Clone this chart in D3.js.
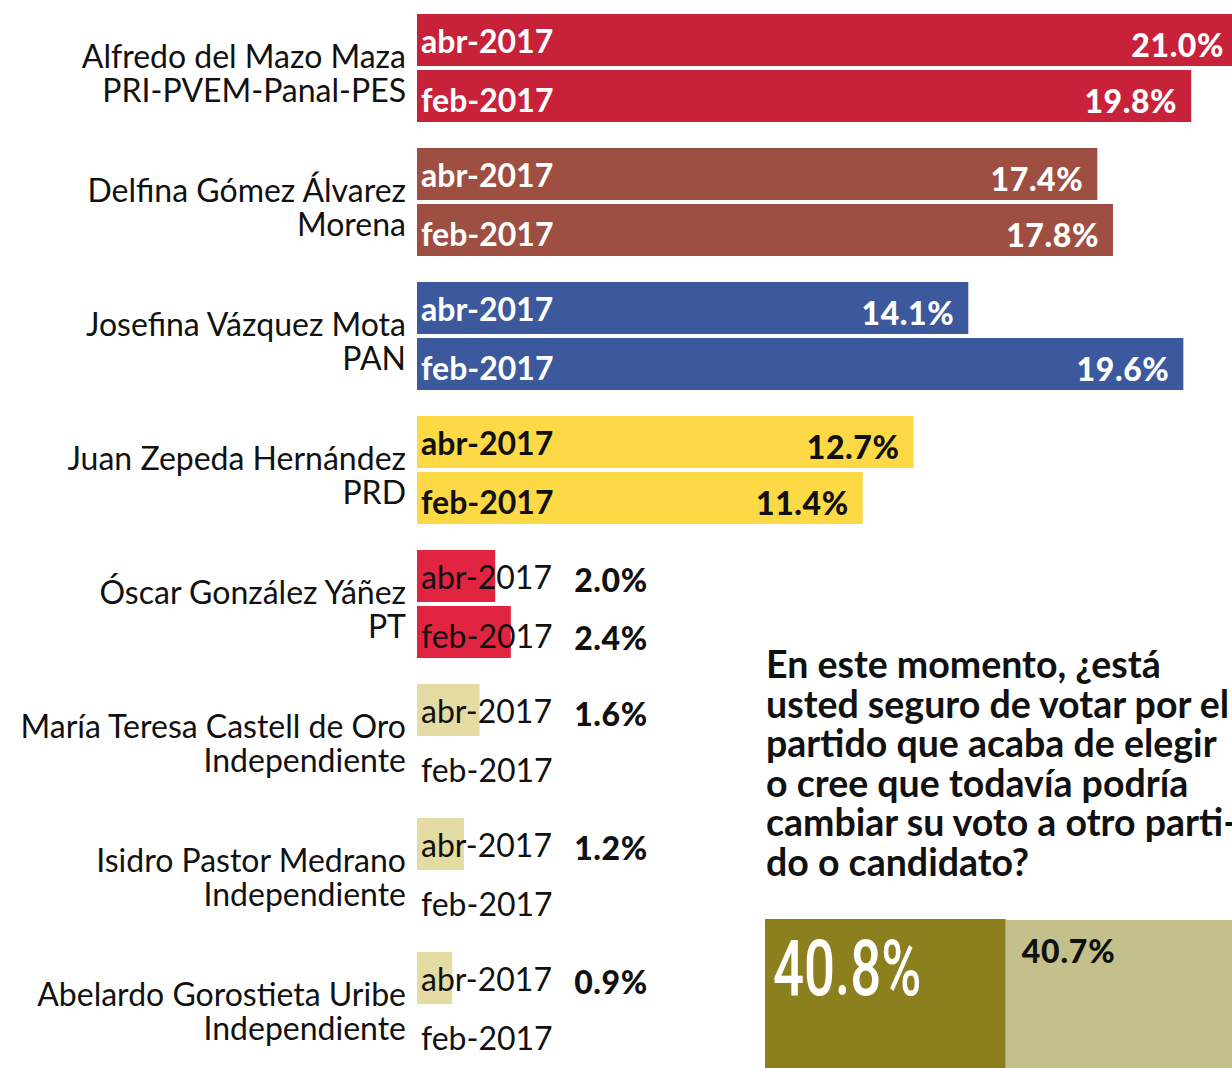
<!DOCTYPE html>
<html>
<head>
<meta charset="utf-8">
<script src="https://cdn.jsdelivr.net/npm/d3@7.9.0/dist/d3.min.js"></script>
<style>
  html, body { margin: 0; padding: 0; background: #fff; overflow: hidden; }
  svg { display: block; font-family: Lato, 'Noto Sans', sans-serif; }
</style>
</head>
<body>
<svg id="chart" width="1232" height="1068"></svg>
<script>
// candidates and party under each name
const candidates = [
  'Alfredo del Mazo Maza', 'Delfina Gómez Álvarez', 'Josefina Vázquez Mota',
  'Juan Zepeda Hernández', 'Óscar González Yáñez', 'María Teresa Castell de Oro',
  'Isidro Pastor Medrano', 'Abelardo Gorostieta Uribe'
];
const parties = [
  'PRI-PVEM-Panal-PES', 'Morena', 'PAN', 'PRD', 'PT',
  'Independiente', 'Independiente', 'Independiente'
];
const periods = ['abr-2017', 'feb-2017'];
const abr2017 = [21.0, 17.4, 14.1, 12.7, 2.0, 1.6, 1.2, 0.9];
const feb2017 = [19.8, 17.8, 19.6, 11.4, 2.4, null, null, null];
const partyColors = ['#c8223a', '#9e4f42', '#3d599d', '#fdd945', '#e02441', '#e4dca3', '#e4dca3', '#e4dca3'];

// side question
const questionLines = [
  'En este momento, ¿está',
  'usted seguro de votar por el',
  'partido que acaba de elegir',
  'o cree que todavía podría',
  'cambiar su voto a otro parti-',
  'do o candidato?'
];
const sureLabels = ['Seguro', 'Podría cambiar'];
const sureValues = [40.8, 40.7];
const sureColors = ['#8c7f1e', '#c4c08c'];

const svg = d3.select('#chart');

const x = d3.scaleLinear().domain([0, 20]).range([417, 1199]);
const y = d3.scaleBand().domain(candidates).range([14, 1060]).paddingInner(26 / 134);
const yInner = d3.scaleBand().domain(periods).range([0, y.bandwidth()]).paddingInner(4 / 56);

const rows = candidates.map((name, i) => ({
  name,
  party: parties[i],
  color: partyColors[i],
  values: [abr2017[i], feb2017[i]]
}));

const group = svg.selectAll('g.cand')
  .data(rows)
  .join('g')
  .attr('class', 'cand')
  .attr('transform', d => `translate(0,${y(d.name)})`);

group.append('text')
  .attr('x', 406).attr('y', 54)
  .attr('text-anchor', 'end')
  .attr('font-size', 32)
  .attr('fill', '#111')
  .text(d => d.name);

group.append('text')
  .attr('x', 406).attr('y', 88)
  .attr('text-anchor', 'end')
  .attr('font-size', 32)
  .attr('fill', '#111')
  .text(d => d.party);

group.each(function (d) {
  const g = d3.select(this);
  const big = d.values[0] > 5;
  const dark = d.color !== '#fdd945';

  periods.forEach((p, j) => {
    const v = d.values[j];
    const top = yInner(p);
    if (v != null) {
      g.append('rect')
        .attr('x', x(0)).attr('y', top)
        .attr('width', x(v) - x(0)).attr('height', yInner.bandwidth())
        .attr('fill', d.color);
    }
    g.append('text')
      .attr('x', 421).attr('y', top + 39 + j * 3)
      .attr('font-size', 32)
      .attr('font-weight', big ? 700 : 400)
      .attr('fill', big && dark ? '#fff' : '#111')
      .text(p);
    if (v != null) {
      g.append('text')
        .attr('x', big ? x(v) - 14 : 611)
        .attr('y', top + (big ? 43 : 42 + j * 2))
        .attr('text-anchor', big ? 'end' : 'middle')
        .attr('font-size', 32)
        .attr('font-weight', 900)
        .attr('letter-spacing', 0.6)
        .attr('fill', big && dark ? '#fff' : '#111')
        .text(v.toFixed(1) + '%');
    }
  });
});

// question block
svg.append('g')
  .selectAll('text')
  .data(questionLines)
  .join('text')
  .attr('x', 766)
  .attr('y', (d, i) => 678 + i * 39.6)
  .attr('font-size', 37.5)
  .attr('font-weight', 700)
  .attr('fill', '#111')
  .text(d => d);

const x2 = d3.scaleLinear().domain([0, 100]).range([765, 765 + 590]);
let acc = 0;
const segs = sureValues.map((v, i) => {
  const s = { label: sureLabels[i], value: v, start: acc, color: sureColors[i] };
  acc += v;
  return s;
});

svg.append('g')
  .selectAll('rect')
  .data(segs)
  .join('rect')
  .attr('x', d => x2(d.start))
  .attr('y', (d, i) => i === 0 ? 919 : 920)
  .attr('width', d => x2(d.start + d.value) - x2(d.start))
  .attr('height', 160)
  .attr('fill', d => d.color);

svg.append('text')
  .attr('transform', `translate(${x2(0) + 8},995) scale(0.7,1)`)
  .attr('font-family', 'Roboto, sans-serif')
  .attr('font-size', 78)
  .attr('font-weight', 500)
  .attr('fill', '#fff')
  .text(segs[0].value.toFixed(1) + '%');

svg.append('text')
  .attr('x', x2(segs[1].start) + 16)
  .attr('y', 963)
  .attr('font-size', 32)
  .attr('font-weight', 900)
  .attr('letter-spacing', 0.8)
  .attr('fill', '#111')
  .text(segs[1].value.toFixed(1) + '%');
</script>
</body>
</html>
